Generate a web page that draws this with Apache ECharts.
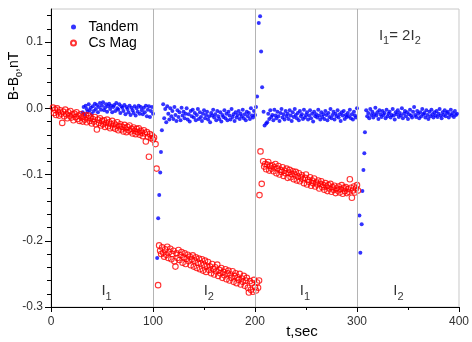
<!DOCTYPE html>
<html>
<head>
<meta charset="utf-8">
<script src="https://cdn.jsdelivr.net/npm/echarts@6/dist/echarts.min.js"></script>
<style>html,body{margin:0;padding:0;background:#fff}#c{width:472px;height:342px}</style>
</head>
<body>
<div id="c"></div>
<script>
// ---- data (time in s, field in nT) ----
const sampleStep = 1;
const dividerTimes = [100, 200, 300];
const yMajorTicks = [-0.3, -0.2, -0.1, 0.0, 0.1];
const yMinorTicks = [-0.28,-0.26,-0.24,-0.22,-0.18,-0.16,-0.14,-0.12,-0.08,-0.06,-0.04,-0.02,0.02,0.04,0.06,0.08,0.12,0.14];

// Tandem (blue)
const tandemAStart = 31;
const tandemA = [
 -0.006,0.002,-0.009,0.004,-0.001,-0.005,0.006,-0.003,0.001,-0.008,
 0.003,-0.004,0.007,-0.001,0.005,-0.006,0.002,0.008,-0.002,0.004,
 0.009,-0.003,0.001,0.006,-0.005,0.003,0.007,-0.001,0.004,-0.006,
 0.002,0.005,-0.004,0.008,0.000,-0.002,0.006,-0.007,0.003,0.001,
 -0.004,0.005,-0.009,0.002,-0.001,-0.006,0.004,-0.010,0.001,-0.003,
 -0.007,0.003,-0.011,0.000,-0.005,0.004,-0.008,0.002,-0.003,-0.009,
 0.001,-0.006,0.004,-0.012,-0.002,0.003,-0.013,-0.004,0.002,-0.008];
const tandemDrop1 = [[104.1,-0.226],[105.1,-0.166],[106.1,-0.131],[107.1,-0.097],[107.8,-0.066],[108.7,-0.033]];
const tandemBStart = 110;
const tandemB = [
 0.006,-0.015,-0.001,-0.021,0.003,-0.008,-0.017,0.000,-0.012,-0.004,
 -0.016,0.002,-0.010,-0.019,-0.003,-0.013,-0.006,-0.018,0.001,-0.011,
 -0.005,-0.015,-0.008,0.000,-0.017,-0.009,-0.020,-0.004,-0.012,-0.002,
 -0.014,-0.007,-0.018,-0.010,-0.001,-0.016,-0.006,-0.013,-0.019,-0.008,
 -0.003,-0.015,-0.010,-0.005,-0.017,-0.012,-0.021,-0.007,-0.011,-0.002,
 -0.014,-0.009,-0.018,-0.004,-0.012,-0.016,-0.006,-0.020,-0.010,-0.013,
 -0.003,-0.015,-0.008,-0.018,-0.005,-0.011,-0.017,-0.001,-0.013,-0.009,
 -0.019,-0.006,-0.014,-0.010,-0.004,-0.016,-0.008,-0.012,-0.002,-0.015,
 -0.009,-0.018,-0.005,-0.012,-0.007,-0.016,0.000,-0.011,-0.014,-0.004,
 -0.010,0.002];
const tandemSpike = [[202.0,0.018],[203.7,0.129],[205.0,0.139],[206.0,0.086],[207.0,0.032],[208.4,-0.005],[209.4,-0.026],[211.0,-0.023]];
const tandemCStart = 212;
const tandemC = [
 -0.021,-0.008,-0.016,-0.003,-0.013,-0.010,-0.018,-0.002,-0.011,-0.015,
 -0.005,-0.012,-0.019,-0.007,-0.001,-0.014,-0.009,-0.017,-0.004,-0.012,
 -0.008,-0.016,-0.003,-0.011,-0.019,-0.006,-0.013,-0.001,-0.010,-0.015,
 -0.007,-0.018,-0.004,-0.012,-0.009,-0.016,-0.002,-0.014,-0.010,-0.006,
 -0.017,-0.011,-0.003,-0.015,-0.008,-0.020,-0.005,-0.012,-0.009,-0.014,
 -0.002,-0.011,-0.017,-0.006,-0.013,-0.009,-0.016,-0.004,-0.010,-0.018,
 -0.007,-0.013,-0.001,-0.015,-0.010,-0.005,-0.017,-0.008,-0.012,-0.003,
 -0.014,-0.009,-0.019,-0.006,-0.011,-0.004,-0.016,-0.010,-0.013,-0.007,
 -0.012,-0.002,-0.015,-0.009,-0.017,-0.005,-0.011,-0.014,0.000];
const tandemDrop2 = [[302.4,-0.162],[303.3,-0.218],[304.6,-0.175],[305.3,-0.125],[306.3,-0.093],[307.2,-0.068],[307.8,-0.036]];
const tandemDStart = 309;
const tandemD = [
 -0.003,-0.012,-0.007,-0.015,-0.001,-0.010,-0.005,-0.014,-0.009,0.001,
 -0.011,-0.006,-0.016,-0.003,-0.009,-0.013,-0.004,-0.010,-0.007,-0.015,
 -0.002,-0.012,-0.008,-0.005,-0.014,-0.010,-0.001,-0.011,-0.017,-0.006,
 -0.009,-0.003,-0.013,-0.007,-0.011,0.000,-0.015,-0.008,-0.004,-0.012,
 -0.006,-0.016,-0.009,-0.002,-0.011,-0.014,-0.005,0.002,-0.010,-0.013,
 -0.004,-0.008,-0.015,-0.006,-0.012,-0.001,-0.009,-0.007,-0.014,-0.003,
 -0.010,-0.016,-0.005,-0.012,-0.002,-0.009,-0.014,-0.006,-0.011,-0.004,
 -0.013,-0.008,-0.001,-0.011,-0.015,-0.006,-0.010,-0.003,-0.012,-0.007,
 -0.005,-0.014,-0.009,-0.002,-0.011,-0.007,-0.013,-0.004,-0.010,-0.008];

// Cs Mag (red)
const csAStart = 2;
const csA = [
 0.001,-0.007,-0.002,-0.010,0.000,-0.006,-0.011,-0.003,-0.008,-0.022,
 -0.005,-0.012,-0.002,-0.009,-0.015,-0.006,-0.011,-0.004,-0.014,-0.009,
 -0.018,-0.008,-0.013,-0.006,-0.016,-0.011,-0.019,-0.009,-0.014,-0.020,
 -0.012,-0.017,-0.010,-0.021,-0.015,-0.011,-0.019,-0.014,-0.023,-0.016,
 -0.020,-0.013,-0.024,-0.032,-0.017,-0.022,-0.015,-0.026,-0.019,-0.024,
 -0.018,-0.028,-0.022,-0.017,-0.027,-0.021,-0.030,-0.024,-0.019,-0.029,
 -0.023,-0.031,-0.026,-0.021,-0.033,-0.027,-0.024,-0.032,-0.028,-0.035,
 -0.025,-0.030,-0.036,-0.028,-0.033,-0.026,-0.035,-0.031,-0.038,-0.029,
 -0.034,-0.039,-0.031,-0.036,-0.030,-0.040,-0.034,-0.037,-0.042,-0.033,
 -0.038,-0.050,-0.036,-0.043,-0.073,-0.039,-0.045,-0.041,-0.047,-0.044];
const csStep1 = [[102.5,-0.054],[103.5,-0.091],[105.0,-0.267]];
const csBStart = 106;
const csB = [
 -0.207,-0.215,-0.220,-0.210,-0.218,-0.224,-0.213,-0.221,-0.209,-0.226,
 -0.217,-0.212,-0.228,-0.220,-0.215,-0.231,-0.239,-0.219,-0.226,-0.214,
 -0.229,-0.222,-0.217,-0.233,-0.225,-0.219,-0.235,-0.227,-0.221,-0.231,
 -0.224,-0.237,-0.228,-0.222,-0.239,-0.230,-0.225,-0.241,-0.233,-0.227,
 -0.243,-0.234,-0.228,-0.245,-0.236,-0.230,-0.247,-0.238,-0.232,-0.244,
 -0.239,-0.249,-0.235,-0.243,-0.251,-0.240,-0.246,-0.236,-0.253,-0.244,
 -0.249,-0.241,-0.256,-0.247,-0.252,-0.243,-0.258,-0.249,-0.245,-0.260,
 -0.251,-0.256,-0.246,-0.262,-0.253,-0.249,-0.264,-0.255,-0.259,-0.250,
 -0.266,-0.257,-0.262,-0.253,-0.268,-0.260,-0.256,-0.271,-0.278,-0.261,
 -0.274,-0.264,-0.277,-0.259,-0.270,-0.275,-0.263,-0.271,-0.260];
const csStep2 = [[204.4,-0.131],[205.4,-0.065],[206.6,-0.114]];
const csCStart = 208;
const csC = [
 -0.080,-0.088,-0.084,-0.092,-0.085,-0.081,-0.094,-0.087,-0.091,-0.086,
 -0.095,-0.089,-0.084,-0.098,-0.091,-0.087,-0.100,-0.093,-0.096,-0.089,
 -0.102,-0.094,-0.098,-0.091,-0.105,-0.097,-0.093,-0.104,-0.099,-0.095,
 -0.107,-0.100,-0.096,-0.109,-0.103,-0.098,-0.110,-0.104,-0.101,-0.107,
 -0.113,-0.105,-0.100,-0.115,-0.108,-0.111,-0.104,-0.117,-0.109,-0.113,
 -0.106,-0.118,-0.112,-0.115,-0.109,-0.121,-0.114,-0.110,-0.119,-0.116,
 -0.123,-0.113,-0.118,-0.125,-0.116,-0.121,-0.114,-0.126,-0.119,-0.123,
 -0.117,-0.128,-0.121,-0.124,-0.118,-0.127,-0.122,-0.116,-0.129,-0.120,
 -0.125,-0.119,-0.128,-0.122,-0.126,-0.107,-0.120,-0.135,-0.124,-0.118,
 -0.127,-0.121,-0.116,-0.124];

// annotations
const annotTimes = [54.5, 154.7, 249, 340.6, 342];
const annotValues = [-0.276, -0.276, -0.276, -0.276, 0.110];
const annotTexts = ['{i|I}{s|1}', '{i|I}{s|2}', '{i|I}{s|1}', '{i|I}{s|2}', '{i|I}{s|1}{i|= 2I}{s|2}'];

// ---- build ----
function seg(start, vals) { return vals.map((v, i) => [start + i * sampleStep, v]); }
const tandemData = [].concat(seg(tandemAStart, tandemA), tandemDrop1, seg(tandemBStart, tandemB),
  tandemSpike, seg(tandemCStart, tandemC), tandemDrop2, seg(tandemDStart, tandemD));
const csData = [].concat(seg(csAStart, csA), csStep1, seg(csBStart, csB), csStep2, seg(csCStart, csC));
const annotData = annotTimes.map((t, i) => ({ value: [t, annotValues[i]], txt: annotTexts[i] }));

const FONT = '"Liberation Sans", Arial, sans-serif';
const chart = echarts.init(document.getElementById('c'), null, { renderer: 'canvas' });
chart.setOption({
  animation: false,
  backgroundColor: '#fff',
  grid: { left: 51, right: 10, top: 9, bottom: 35, show: true, borderColor: '#c8c8c8', borderWidth: 1 },
  legend: {
    orient: 'vertical', left: 65, top: 15, itemGap: 2, itemWidth: 20, itemHeight: 5,
    textStyle: { fontSize: 14, fontFamily: FONT, color: '#000' },
    data: [
      { name: 'Tandem', icon: 'circle' },
      { name: 'Cs Mag', icon: 'circle' }
    ]
  },
  xAxis: {
    type: 'value', min: 0, max: 400, interval: 100,
    axisLine: { onZero: false, lineStyle: { color: '#000', width: 1 } },
    axisTick: { length: 5, lineStyle: { color: '#000' } },
    minorTick: { show: true, splitNumber: 2, length: 3, lineStyle: { color: '#000' } },
    splitLine: { show: false },
    axisLabel: { fontSize: 12, fontFamily: FONT, color: '#333', margin: 9 }
  },
  yAxis: [{
    type: 'value', min: -0.3, max: 0.15, interval: 0.1,
    axisLine: { show: true, onZero: false, lineStyle: { color: '#000', width: 1 } },
    axisTick: { show: true, length: 6, customValues: yMajorTicks, lineStyle: { color: '#000' } },
    splitLine: { show: false },
    axisLabel: { fontSize: 12, fontFamily: FONT, color: '#333', margin: 8, customValues: yMajorTicks,
      formatter: v => v.toFixed(1) }
  }, {
    type: 'value', min: -0.3, max: 0.15, position: 'left',
    axisLine: { show: false, onZero: false },
    axisTick: { show: true, length: 4, customValues: yMinorTicks, lineStyle: { color: '#000' } },
    splitLine: { show: false },
    axisLabel: { show: false }
  }],
  graphic: [
    { type: 'text', x: 14, y: 76, rotation: Math.PI / 2, silent: true,
      style: { text: '{m|B-B}{s|0}{m|,nT}', align: 'center', verticalAlign: 'middle',
        rich: { m: { fontSize: 14, fontFamily: FONT, fill: '#000', lineHeight: 20, verticalAlign: 'middle' },
                s: { fontSize: 9, fontFamily: FONT, fill: '#000', lineHeight: 20, verticalAlign: 'bottom' } } } },
    { type: 'text', x: 302, y: 332, silent: true,
      style: { text: 't,sec', align: 'center', verticalAlign: 'middle', fontSize: 15, fontFamily: FONT, fill: '#000' } }
  ],
  series: [
    { name: 'Tandem', type: 'scatter', data: tandemData, symbol: 'circle', symbolSize: 4,
      itemStyle: { color: '#0000ff' }, z: 3,
      markLine: { silent: true, symbol: 'none', label: { show: false },
        lineStyle: { color: '#b4b4b4', width: 1, type: 'solid' },
        data: dividerTimes.map(t => ({ xAxis: t })) } },
    { name: 'Cs Mag', type: 'scatter', data: csData, symbol: 'circle', symbolSize: 5.5,
      itemStyle: { color: 'rgba(255,255,255,0)', borderColor: '#ff0000', borderWidth: 1.1 }, z: 4 },
    { name: 'annot', type: 'scatter', data: annotData, symbolSize: 0, silent: true, z: 5,
      label: { show: true, position: 'inside', formatter: p => p.data.txt,
        rich: { i: { fontSize: 15, fontFamily: FONT, color: '#000', lineHeight: 22, verticalAlign: 'middle' },
                s: { fontSize: 11, fontFamily: FONT, color: '#000', lineHeight: 22, verticalAlign: 'bottom' } } } }
  ]
});
</script>
</body>
</html>
